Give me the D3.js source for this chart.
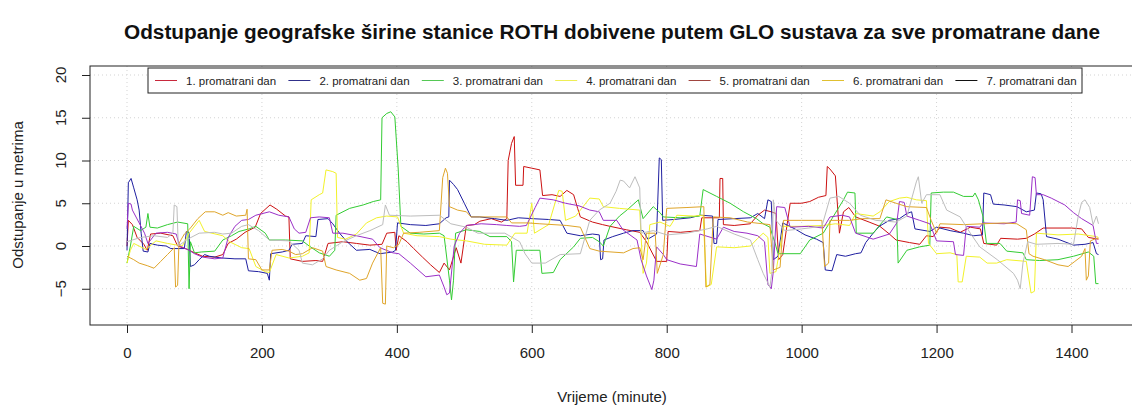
<!DOCTYPE html>
<html><head><meta charset="utf-8">
<script src="https://cdn.jsdelivr.net/npm/d3@7"></script>
<style>
html,body{margin:0;padding:0;background:#fff;}
svg{display:block;font-family:"Liberation Sans",Arial,sans-serif;}
</style></head>
<body><svg id="c" width="1132" height="407"></svg>
<script>
const xTicks=[0,200,400,600,800,1000,1200,1400];
const yTicks=[-5,0,5,10,15,20];
const names=["1. promatrani dan","2. promatrani dan","3. promatrani dan","4. promatrani dan","5. promatrani dan","6. promatrani dan","7. promatrani dan"];
const lineColors=["#cc1111","#1f1fa0","#33cc33","#f2f22a","#9b30c8","#dfa52a","#bdbdbd"];
const legendColors=["#c8283c","#30308a","#55c855","#eeee55","#a0453f","#e0c030","#111111"];

const dan1=[[0,0],[2,3],[8,2.5],[15,1],[25,0.2],[30,-0.5],[35,1.4],[50,1.5],[68,1.2],[75,0],[90,-0.4],[100,-0.8],[112,-1.2],[130,-1.3],[142,-1],[150,0.3],[162,0.8],[175,1.6],[190,2.2],[198,3.8],[212,4.8],[222,4.3],[235,3.5],[240,3.4],[242,-1.5],[260,-1.8],[280,-1.7],[290,-1.8],[298,0.3],[320,0.5],[340,0.3],[360,0.1],[378,0.2],[385,1.5],[397,1.6],[399,-0.5],[403,1.2],[415,0.5],[425,-0.3],[438,-1.3],[450,-2.2],[463,-3.1],[470,-2],[478,-2.8],[488,-0.2],[495,-2],[503,2.4],[515,2.5],[523,2.9],[540,3.2],[555,2.8],[563,3.2],[565,10],[570,12],[574,12.8],[576,7.1],[587,7.1],[588,9.3],[600,9.1],[612,8.9],[616,5.9],[630,6],[642,5.8],[652,6.5],[662,6],[668,4.4],[672,3.4],[690,2.8],[705,2.5],[716,2.3],[740,1.9],[760,1.6],[770,0.5],[785,-1.8],[800,-1.8],[802,1.7],[820,1.6],[849,1.8],[852,3.3],[878,3.3],[879,7.9],[883,7.9],[884,2.5],[900,2.4],[924,2.6],[935,3.6],[945,4.2],[955,4],[962,3.8],[966,-1.6],[972,-1],[983,5],[1000,5],[1012,5.2],[1025,5.7],[1036,5.9],[1038,9.3],[1042,9],[1050,8.2],[1056,1.5],[1062,4],[1070,4.5],[1080,3.4],[1100,2.8],[1116,2.3],[1130,1.4],[1140,0.7],[1160,0.4],[1175,0.2],[1185,1.2],[1195,1.1],[1205,2.2],[1220,2.1],[1235,1.6],[1250,2.2],[1265,2],[1270,0.3],[1289,0.1],[1295,0.9],[1320,0.8],[1333,0.9],[1345,1.4],[1358,2.1],[1380,2.1],[1400,2.1],[1415,2.0],[1425,1.0],[1440,0.8]];
const dan2=[[0,-0.5],[2,7.4],[6,7.9],[10,6.8],[15,5.4],[18,4.2],[21,1.5],[24,-0.6],[31,-0.7],[34,0.3],[45,0.1],[58,0],[65,-0.3],[85,-0.3],[88,1.7],[92,1.6],[94,-2.4],[100,-2.2],[107,-1.6],[115,-1],[122,-1.2],[140,-1.4],[160,-1.5],[176,-1.5],[180,-2.9],[195,-3],[208,-3.2],[211,-4],[213,-0.9],[230,-0.7],[240,-0.5],[245,0.2],[260,0.3],[265,1.2],[280,1.1],[283,3.1],[298,3.2],[305,2.6],[315,1.5],[325,0.6],[340,-0.5],[360,-0.4],[375,-0.9],[394,-0.7],[398,-0.5],[401,2.7],[420,2.5],[443,2.4],[463,2.6],[473,3.3],[477,3.4],[478,7.7],[484,7.2],[490,6.6],[500,5],[505,4.2],[510,3.4],[523,3.4],[545,3.2],[563,3],[580,3.3],[600,3.2],[625,3.1],[642,3],[652,1.5],[672,1.2],[690,1.4],[700,1.3],[702,-1.6],[705,-1.5],[707,0.7],[720,1.1],[736,1.5],[750,1.8],[765,1.8],[772,0.8],[785,1.4],[789,10.3],[792,10.1],[794,3],[810,3.1],[835,3.3],[850,3.6],[868,3.5],[870,0.3],[874,0.3],[876,3.1],[900,3.2],[924,3.3],[935,3.8],[945,3.2],[950,5.4],[955,5.2],[958,-1.6],[965,-1.2],[972,2.7],[990,2],[1005,1.3],[1022,0.8],[1032,0.4],[1035,-2.8],[1045,-2.9],[1052,-1],[1065,-1.2],[1080,-0.9],[1088,-0.8],[1095,0.4],[1105,1.4],[1115,2.3],[1130,3],[1145,3.2],[1156,3.8],[1163,4],[1168,2],[1190,1.7],[1200,2.2],[1220,1.8],[1240,1.5],[1255,1.2],[1268,1.3],[1270,6.2],[1280,6],[1284,4.9],[1300,4.8],[1319,4.6],[1333,4],[1345,4.2],[1348,6.2],[1355,6.1],[1358,5.4],[1363,1.1],[1380,0.8],[1403,0.1],[1420,0.2],[1432,0.4],[1437,-0.9],[1440,-1]];
const dan3=[[0,-2],[5,0],[10,2.3],[20,1.8],[28,2.2],[31,3.8],[34,2.2],[45,2.1],[60,2.5],[75,2.8],[90,2.6],[92,-5],[94,0.5],[100,-0.8],[110,-0.7],[130,-0.6],[142,0.7],[155,1.2],[166,1.7],[181,2],[191,2.3],[205,1.5],[211,0.7],[235,0.7],[260,0.6],[270,0],[285,-0.8],[300,-1.2],[308,-0.5],[310,3.6],[330,4.4],[350,4.8],[365,5.2],[376,5.4],[378,15],[385,15.5],[391,15.7],[397,15.1],[402,9],[406,2.3],[420,1.5],[440,1.4],[463,1.5],[470,1.2],[478,-4],[481,-6.3],[484,-4],[487,1.5],[503,1.9],[523,1.7],[538,1.1],[563,1.1],[570,0.5],[573,-4.2],[577,-0.5],[595,-0.5],[612,-0.5],[615,-3.2],[632,-3.1],[642,-1.6],[662,-0.1],[672,0.9],[690,1],[700,0.5],[706,0],[716,2.3],[730,3.5],[741,4.2],[758,5.4],[765,3.2],[780,4.6],[790,3.9],[795,3.4],[820,3.3],[849,3.5],[854,6.6],[874,5.8],[894,5],[914,4],[933,3.2],[943,2.6],[953,2.2],[960,0.5],[965,-0.9],[998,-0.9],[1012,0.7],[1032,1.5],[1045,3.2],[1062,5.4],[1068,6.3],[1079,6.2],[1081,1.5],[1106,1.5],[1126,3.4],[1141,3.1],[1143,-2],[1156,-0.5],[1175,-0.1],[1190,0.1],[1192,6.2],[1210,6.3],[1225,6.3],[1240,5.8],[1254,5.8],[1257,6.2],[1262,5.4],[1269,3.4],[1274,0.3],[1294,0.3],[1304,-0.6],[1328,-0.8],[1333,-1.6],[1353,-1.7],[1380,-1.6],[1403,-1.2],[1425,-0.7],[1433,-1.2],[1436,-4.4],[1440,-4.4]];
const dan4=[[0,-2],[5,-0.5],[10,0.3],[28,-0.4],[43,0.6],[60,0.3],[82,0],[92,1.5],[107,3],[115,1.7],[142,1.2],[152,0.5],[170,-0.2],[181,-0.3],[191,-2.4],[205,-3],[211,-3.1],[221,-1],[240,-1.4],[260,-1.2],[270,-0.8],[273,5.4],[285,6],[290,6.2],[295,8.9],[305,8.7],[310,8.5],[312,1],[324,0.8],[340,1.4],[355,2.7],[370,3.3],[385,3.5],[401,3.4],[410,1.5],[430,1.2],[463,1.1],[480,0.8],[503,0.6],[530,0.2],[563,0.1],[575,1.5],[593,1.5],[600,5],[604,1.5],[625,2.5],[640,6.5],[645,6.4],[650,3],[665,3.5],[686,5.6],[700,5.5],[706,4.6],[730,4.4],[760,4.2],[765,-3.2],[770,-2],[775,2.5],[790,2.8],[805,2.3],[815,3.6],[840,3.5],[854,3.6],[859,-4.8],[866,-4.5],[874,-0.1],[900,-0.2],[924,0],[935,0.9],[943,1.5],[950,1],[953,-3.2],[962,-3],[973,2.3],[1000,2.3],[1032,2.4],[1050,2.6],[1071,2.4],[1080,3.8],[1106,3.5],[1116,4],[1130,5.2],[1145,5.6],[1156,5.7],[1170,5.4],[1185,5.3],[1188,0.3],[1200,-0.9],[1220,-0.8],[1230,-1],[1232,-4.2],[1238,-4.2],[1244,-1.2],[1264,-1.3],[1275,-2],[1289,-2],[1304,-1.6],[1333,-1.8],[1340,-5.5],[1345,-5.3],[1348,1.5],[1380,1.3],[1410,1.4],[1437,1.1],[1440,1]];
const dan5=[[0,2],[2,5],[6,4.9],[8,4.2],[18,2.7],[26,1.5],[31,0.3],[43,1.5],[60,1.6],[73,1.4],[78,0],[92,-0.5],[100,-0.9],[112,-1.3],[130,-1.5],[142,-1.4],[150,1],[160,2.3],[170,3],[180,3.1],[191,3.6],[211,4],[225,3.6],[240,3.4],[248,2],[255,1.5],[265,1.6],[272,3.3],[285,3.4],[300,3.3],[305,1.5],[320,1.5],[340,1.2],[364,0.8],[375,-0.2],[394,-0.8],[403,-0.9],[420,-2],[443,-3.6],[463,-3.4],[470,-4.8],[474,-5.7],[478,-5.5],[485,0],[493,1.5],[503,2.4],[525,2.6],[548,2.5],[563,2.4],[582,2.3],[592,2.4],[605,4.5],[612,5.6],[632,5.4],[650,5],[670,4.7],[686,4.2],[700,4],[706,3],[726,3],[735,1.9],[756,0.7],[762,-1.6],[770,-3.5],[778,-5.1],[781,-4],[785,-0.1],[795,-1],[800,-1.6],[820,-2.1],[844,-2.4],[849,1.4],[874,0.8],[884,2.2],[900,1.7],[919,1.5],[935,1.2],[945,0.5],[950,-4.5],[955,-5],[958,-3],[963,4.6],[975,4.5],[983,2.2],[1010,2.3],[1032,2.1],[1042,3.4],[1060,3.6],[1071,3.4],[1080,1.5],[1106,0.8],[1130,1.4],[1141,2.7],[1145,5.2],[1152,5.1],[1156,3.5],[1175,3],[1190,2.6],[1200,0.6],[1225,0.5],[1228,-1],[1240,-1.1],[1244,2.3],[1264,2.2],[1269,2.7],[1300,2.6],[1318,2.8],[1320,5.4],[1324,5.3],[1326,3.8],[1338,3.6],[1342,8.1],[1346,8],[1348,6],[1358,6],[1370,5.6],[1390,4.8],[1403,3.9],[1415,3.2],[1432,2.4],[1437,0.3],[1440,0.3]];
const dan6=[[0,-1.2],[10,-1.6],[18,-2],[30,-2.3],[40,-2.6],[50,-1.8],[60,-1],[70,-0.2],[72,-4.8],[75,-4.6],[77,0.3],[85,1.4],[93,2],[105,3.2],[116,4],[130,4],[142,3.6],[150,3.9],[162,3.5],[176,3.6],[178,4.3],[180,-1.5],[191,-1.6],[200,-2.8],[211,-2.8],[215,-0.5],[230,-0.4],[240,-0.6],[250,-1],[260,-0.9],[275,-0.2],[290,-0.6],[295,-2.4],[310,-2.8],[330,-3.2],[345,-4],[355,-3.8],[364,-2],[376,-0.2],[379,-6.7],[383,-6.8],[385,0],[395,-0.2],[403,0.2],[410,1.5],[433,1.6],[463,1.8],[468,8],[472,9.1],[475,8.5],[478,4.6],[490,4.2],[503,4],[510,3.4],[563,3.4],[570,2.7],[593,2.7],[612,2.6],[652,2.4],[672,2.2],[686,-0.3],[700,-0.6],[736,-0.8],[750,-0.3],[760,-0.2],[765,-1.6],[770,1.5],[783,1.5],[786,-3.2],[795,-1],[800,4.4],[830,4.5],[855,4.6],[858,-4.8],[864,-4.5],[869,3.4],[894,3.3],[920,2.8],[953,2.5],[958,-2.8],[968,-2.5],[973,3],[1000,3],[1030,3],[1034,-2.4],[1040,-2],[1042,3],[1071,3],[1090,3.2],[1116,3.2],[1125,5.4],[1140,5],[1156,4.6],[1185,4.5],[1192,3],[1200,1.5],[1205,2.6],[1240,2.5],[1269,2.6],[1300,2.7],[1319,2.6],[1333,1.9],[1337,-0.9],[1343,-1.2],[1360,-1.6],[1380,-2.2],[1395,-2.4],[1405,-1.8],[1415,-1.2],[1420,-0.3],[1422,-4],[1425,-3.5],[1428,0.6],[1437,0.9],[1440,0.9]];
const dan7=[[0,0.5],[20,1],[40,1.2],[60,1],[68,1.5],[70,4.8],[74,4.6],[76,0],[90,0.8],[107,1.5],[130,1.6],[142,1.4],[155,1.5],[170,2.3],[180,2.5],[195,1.8],[211,0.7],[240,0.6],[255,-0.5],[260,-2],[275,-2.2],[290,-1.5],[300,-0.5],[320,0.5],[340,1.2],[360,1.8],[379,2.5],[383,4.8],[389,3.6],[420,3.5],[463,3.6],[480,2.6],[503,2.2],[520,1.5],[560,1.5],[582,0.5],[590,-0.9],[600,-2],[620,-2],[642,-1],[672,-0.9],[686,3],[700,4.2],[716,5],[725,6.4],[731,7.7],[736,7.6],[745,6.8],[753,8.1],[760,6.8],[762,1.5],[780,1.8],[800,1.3],[830,1.5],[860,2],[874,2.3],[900,1.4],[924,0.7],[935,-1.6],[943,-3.2],[953,-4.8],[956,-3],[958,5.4],[962,3],[975,1.8],[1000,2],[1030,2.3],[1042,5.6],[1055,5.8],[1071,5],[1087,3.6],[1110,3],[1140,2.8],[1156,3.5],[1170,7.5],[1173,8.1],[1178,5],[1185,6],[1205,6],[1215,4.2],[1235,3.4],[1250,1.5],[1264,-0.1],[1290,-1.6],[1314,-3.2],[1320,-4],[1324,-5],[1328,-2],[1335,0.5],[1348,0.2],[1380,0.3],[1403,0.2],[1410,3.5],[1415,5.1],[1420,5.4],[1427,4.5],[1432,2.5],[1437,3.5],[1440,2.6]];
const series=[dan1,dan2,dan3,dan4,dan5,dan6,dan7];

const svg=d3.select("#c");
const box={l:90,r:1135,t:66,b:325};
const x=d3.scaleLinear().domain([0,1400]).range([127,1071.5]);
const y=d3.scaleLinear().domain([0,20]).range([246,75]);

// grid
const grid=svg.append("g").attr("stroke","#d3d3d3").attr("stroke-dasharray","1,3").attr("stroke-width",1);
xTicks.forEach(t=>grid.append("line").attr("x1",x(t)).attr("x2",x(t)).attr("y1",box.t).attr("y2",box.b));
yTicks.forEach(t=>grid.append("line").attr("x1",box.l).attr("x2",box.r).attr("y1",y(t)).attr("y2",y(t)));

// lines
const line=d3.line().x(d=>x(d[0])).y(d=>y(d[1]));
series.forEach((s,i)=>{
  svg.append("path").datum(s).attr("d",line).attr("fill","none")
    .attr("stroke",lineColors[i]).attr("stroke-width",1).attr("stroke-linejoin","miter");
});

// box
svg.append("rect").attr("x",box.l).attr("y",box.t).attr("width",box.r-box.l).attr("height",box.b-box.t)
  .attr("fill","none").attr("stroke","#222").attr("stroke-width",1);

// axes (ticks via d3 axes, labels drawn separately)
const xa=svg.append("g").attr("transform",`translate(0,${box.b})`)
  .call(d3.axisBottom(x).tickValues(xTicks).tickSize(8).tickSizeOuter(0).tickPadding(14).tickFormat(d3.format("d")));
const ya=svg.append("g").attr("transform",`translate(${box.l},0)`)
  .call(d3.axisLeft(y).tickValues(yTicks).tickSize(8).tickSizeOuter(0).tickFormat(""));
[xa,ya].forEach(a=>{a.select(".domain").remove();a.selectAll("line").attr("stroke","#222");});
xa.selectAll("text").attr("font-family","Liberation Sans, Arial, sans-serif").attr("font-size",15).attr("fill","#222").attr("dy","0.71em");
ya.selectAll("text").remove();
svg.append("g").selectAll("text").data(yTicks).join("text")
  .attr("transform",d=>`translate(66,${y(d)}) rotate(-90)`)
  .attr("text-anchor","middle").attr("font-size",15).attr("fill","#222")
  .text(d=>d3.format("d")(d));

// titles
svg.append("text").attr("x",612).attr("y",39).attr("text-anchor","middle")
  .attr("font-weight","bold").attr("font-size",19.5).attr("fill","#111")
  .attr("textLength",976).attr("lengthAdjust","spacingAndGlyphs")
  .text("Odstupanje geografske širine stanice ROTH dobivene putem GLO sustava za sve promatrane dane");
svg.append("text").attr("x",612).attr("y",402).attr("text-anchor","middle")
  .attr("font-size",15).attr("fill","#222").text("Vrijeme (minute)");
svg.append("text").attr("transform","translate(23,195) rotate(-90)").attr("text-anchor","middle")
  .attr("font-size",15).attr("fill","#222").text("Odstupanje u metrima");

// legend
const lg=svg.append("g");
lg.append("rect").attr("x",148).attr("y",68).attr("width",934).attr("height",25)
  .attr("fill","#fff").attr("stroke","#222").attr("stroke-width",1);
names.forEach((n,i)=>{
  const x0=155+133.4*i;
  lg.append("line").attr("x1",x0).attr("x2",x0+22).attr("y1",80.5).attr("y2",80.5)
    .attr("stroke",legendColors[i]).attr("stroke-width",1);
  lg.append("text").attr("x",x0+31).attr("y",80.5).attr("dy","0.36em")
    .attr("font-size",11.5).attr("fill","#222").text(n);
});
</script></body></html>
